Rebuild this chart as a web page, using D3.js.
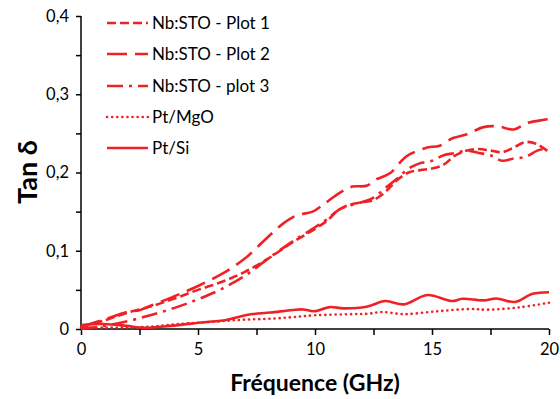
<!DOCTYPE html>
<html><head><meta charset="utf-8">
<script src="https://cdn.jsdelivr.net/npm/d3@7"></script>
<style>body{margin:0;background:#fff}svg{display:block}</style>
</head><body>
<svg id="c" width="560" height="399"></svg>
<script>
// ---- data ----
const seriesNames = ["Nb:STO - Plot 1", "Nb:STO - Plot 2", "Nb:STO - plot 3", "Pt/MgO", "Pt/Si"];
const xTicks = [0, 5, 10, 15, 20];
const yTicks = [0, 0.1, 0.2, 0.3, 0.4];
const yTickLabels = ["0", "0,1", "0,2", "0,3", "0,4"];

const plot1F = [0, 1, 2, 3, 4, 5, 6, 7, 8, 9, 10, 10.5, 11, 11.5, 12, 12.5, 13, 13.5, 14, 14.5, 15, 15.5, 16, 16.5, 17, 17.5, 18, 18.5, 19, 19.5, 20];
const plot1V = [0.002, 0.011, 0.021, 0.029, 0.039, 0.05, 0.06, 0.073, 0.09, 0.11, 0.128, 0.138, 0.152, 0.159, 0.162, 0.165, 0.175, 0.19, 0.2, 0.203, 0.205, 0.21, 0.222, 0.228, 0.23, 0.228, 0.226, 0.232, 0.239, 0.236, 0.226];

const plot2F = [0, 1, 2, 2.5, 3, 4, 5, 6, 7, 8, 8.65, 9.2, 9.9, 10.4, 11.1, 11.6, 12.2, 12.6, 13.2, 13.8, 14.1, 14.8, 15.3, 15.9, 16.5, 17.2, 17.8, 18.5, 19.05, 19.9, 20];
const plot2V = [0.003, 0.012, 0.022, 0.024, 0.03, 0.042, 0.055, 0.07, 0.09, 0.118, 0.135, 0.145, 0.15, 0.16, 0.175, 0.182, 0.183, 0.191, 0.199, 0.218, 0.224, 0.232, 0.234, 0.244, 0.249, 0.258, 0.259, 0.255, 0.263, 0.268, 0.269];

const plot3F = [0, 1, 2, 3, 4, 5, 6, 7, 8, 9, 10, 10.5, 11, 11.5, 12, 12.5, 13, 13.5, 14, 14.5, 15, 15.5, 16, 16.5, 17, 17.5, 18, 18.5, 19, 19.5, 20];
const plot3V = [0.0, 0.004, 0.01, 0.018, 0.027, 0.038, 0.051, 0.068, 0.09, 0.111, 0.13, 0.14, 0.152, 0.158, 0.162, 0.168, 0.18, 0.192, 0.205, 0.212, 0.215, 0.222, 0.225, 0.228, 0.225, 0.222, 0.215, 0.218, 0.22, 0.228, 0.232];

const mgoF = [0, 1, 2, 3, 4, 5, 6, 7, 8, 9, 10, 11.6, 12.3, 12.85, 13.8, 15.2, 16.6, 17.4, 18.76, 20];
const mgoV = [0.002, 0.002, 0.002, 0.003, 0.006, 0.008, 0.01, 0.012, 0.013, 0.015, 0.0175, 0.019, 0.0196, 0.0217, 0.019, 0.0226, 0.0255, 0.0247, 0.0277, 0.0336];

const siF = [0, 0.95, 1.95, 2.66, 3.8, 5.23, 6.2, 7.08, 8.1, 9.05, 9.5, 9.96, 10.64, 11.2, 12.2, 13, 13.8, 14.8, 15.85, 16.3, 17.2, 17.75, 18.55, 19.3, 20];
const siV = [0.005, 0.0064, 0.004, 0.0017, 0.004, 0.0086, 0.0115, 0.018, 0.021, 0.0243, 0.025, 0.0226, 0.028, 0.0264, 0.0285, 0.0357, 0.0315, 0.0434, 0.0357, 0.0387, 0.0366, 0.039, 0.0345, 0.045, 0.047];

const seriesF = [plot1F, plot2F, plot3F, mgoF, siF];
const seriesV = [plot1V, plot2V, plot3V, mgoV, siV];
const dashes = ["9,4", "20,8", "16,6,3,6", "0.1,5", null];

// ---- drawing ----
const red = "#ee2226";
const svg = d3.select("#c");
const x = d3.scaleLinear().domain([0, 20]).range([81, 549]);
const y = d3.scaleLinear().domain([0, 0.4]).range([329, 16]);
const font = "Lato, 'Open Sans', sans-serif";

// axes
const xAxis = d3.axisBottom(x).tickValues(d3.range(0, 20.01, 2.5)).tickSize(6).tickFormat(d => xTicks.includes(d) ? String(d) : "");
const gx = svg.append("g").attr("transform", "translate(0,329)").call(xAxis);
gx.select(".domain").attr("stroke", "#000").attr("stroke-width", 1.5).attr("d", "M81,0H549");
gx.selectAll(".tick line").attr("stroke", "#000").attr("stroke-width", 1.5);
gx.selectAll(".tick text").attr("font-family", font).attr("font-size", 16.5).attr("fill", "#000").attr("y", 14).attr("dy", "0.75em");

const yAxis = d3.axisLeft(y).tickValues(d3.range(0, 0.4001, 0.05)).tickSize(5)
  .tickFormat(d => { const i = yTicks.findIndex(t => Math.abs(t - d) < 1e-6); return i >= 0 ? yTickLabels[i] : ""; });
const gy = svg.append("g").attr("transform", "translate(81,0)").call(yAxis);
gy.select(".domain").attr("stroke", "#000").attr("stroke-width", 1.5).attr("d", "M0,16V329");
gy.selectAll(".tick line").attr("stroke", "#000").attr("stroke-width", 1.5);
gy.selectAll(".tick text").attr("font-family", font).attr("font-size", 16.5).attr("fill", "#000").attr("x", -12);

// lines
const line = d3.line().x(d => x(d[0])).y(d => y(d[1])).curve(d3.curveCatmullRom.alpha(0.5));
seriesNames.forEach((name, i) => {
  const pts = seriesF[i].map((f, j) => [f, seriesV[i][j]]);
  const p = svg.append("path").datum(pts).attr("d", line)
    .attr("fill", "none").attr("stroke", red).attr("stroke-width", 2.6);
  if (dashes[i]) p.attr("stroke-dasharray", dashes[i]);
  if (i === 3) p.attr("stroke-linecap", "round");
});

// legend
const legY = [23, 54, 86, 117, 148];
seriesNames.forEach((name, i) => {
  const l = svg.append("line").attr("x1", 107).attr("x2", 148).attr("y1", legY[i]).attr("y2", legY[i])
    .attr("stroke", red).attr("stroke-width", 2.6);
  if (dashes[i]) l.attr("stroke-dasharray", dashes[i]);
  if (i === 3) l.attr("stroke-linecap", "round");
  svg.append("text").attr("x", 152).attr("y", legY[i]).attr("dy", "0.36em")
    .attr("font-family", font).attr("font-size", 17).attr("fill", "#000").text(name);
});

// titles
svg.append("text").attr("x", 315).attr("y", 391).attr("text-anchor", "middle")
  .attr("font-family", font).attr("font-weight", "bold").attr("font-size", 23).attr("fill", "#000")
  .text("Fréquence (GHz)");
svg.append("text").attr("transform", "translate(37,172) rotate(-90)").attr("text-anchor", "middle")
  .attr("font-family", font).attr("font-weight", "bold").attr("font-size", 27).attr("fill", "#000")
  .text("Tan δ");
</script>
</body></html>
